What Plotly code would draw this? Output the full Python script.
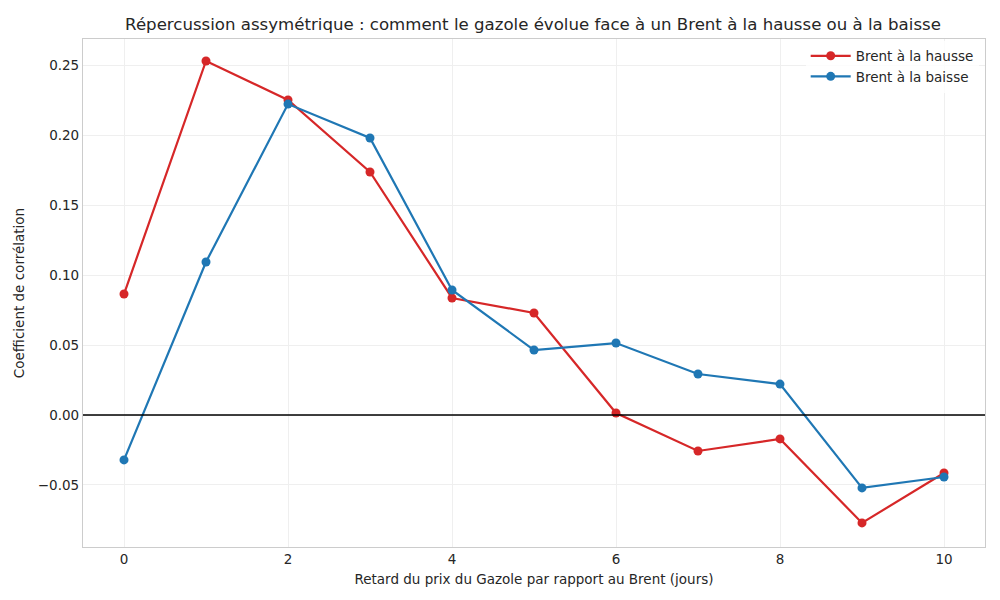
import plotly.graph_objects as go

lags = [0, 1, 2, 3, 4, 5, 6, 7, 8, 9, 10]
hausse = [0.0864, 0.2529, 0.2250, 0.1736, 0.0836, 0.0729, 0.0014, -0.0257, -0.0171, -0.0771, -0.0414]
baisse = [-0.0321, 0.1093, 0.2221, 0.1979, 0.0893, 0.0464, 0.0514, 0.0293, 0.0221, -0.0521, -0.0443]

font = "DejaVu Sans"
fig = go.Figure()
fig.add_trace(go.Scatter(x=lags, y=hausse, mode="lines+markers", name="Brent à la hausse",
                         line=dict(color="#d62728", width=2.2), marker=dict(size=9, color="#d62728")))
fig.add_trace(go.Scatter(x=lags, y=baisse, mode="lines+markers", name="Brent à la baisse",
                         line=dict(color="#1f77b4", width=2.2), marker=dict(size=9, color="#1f77b4")))

fig.add_shape(type="line", xref="paper", yref="y", x0=0, x1=1, y0=0, y1=0,
              line=dict(color="black", width=1.4), layer="above")

fig.update_layout(
    width=1000, height=600,
    margin=dict(l=83, r=15, t=39, b=53),
    paper_bgcolor="white", plot_bgcolor="white",
    font=dict(family=font, size=13.5, color="#262626"),
    title=dict(text="Répercussion assymétrique : comment le gazole évolue face à un Brent à la hausse ou à la baisse",
               x=0.533, xanchor="center", y=0.96, yanchor="middle", font=dict(size=16.6, color="#262626")),
    legend=dict(x=0.993, y=0.997, xanchor="right", yanchor="top", bgcolor="rgba(255,255,255,0.8)",
                font=dict(size=13.5), borderwidth=0, itemwidth=40),
    showlegend=True,
)
fig.update_xaxes(range=[-0.5, 10.5], tickvals=[0, 2, 4, 6, 8, 10], showgrid=True, gridcolor="#efefef",
                 zeroline=False, showline=True, linecolor="#cccccc", linewidth=1.2, mirror=True,
                 ticks="", title=dict(text="Retard du prix du Gazole par rapport au Brent (jours)", font=dict(size=13.5), standoff=8))
fig.update_yaxes(range=[-0.0943, 0.2686], tickvals=[-0.05, 0, 0.05, 0.10, 0.15, 0.20, 0.25], tickformat=".2f",
                 showgrid=True, gridcolor="#efefef", zeroline=False, showline=True, linecolor="#cccccc",
                 linewidth=1.2, mirror=True, ticks="", title=dict(text="Coefficient de corrélation", font=dict(size=13.5), standoff=10))

fig.write_html("out.html")
